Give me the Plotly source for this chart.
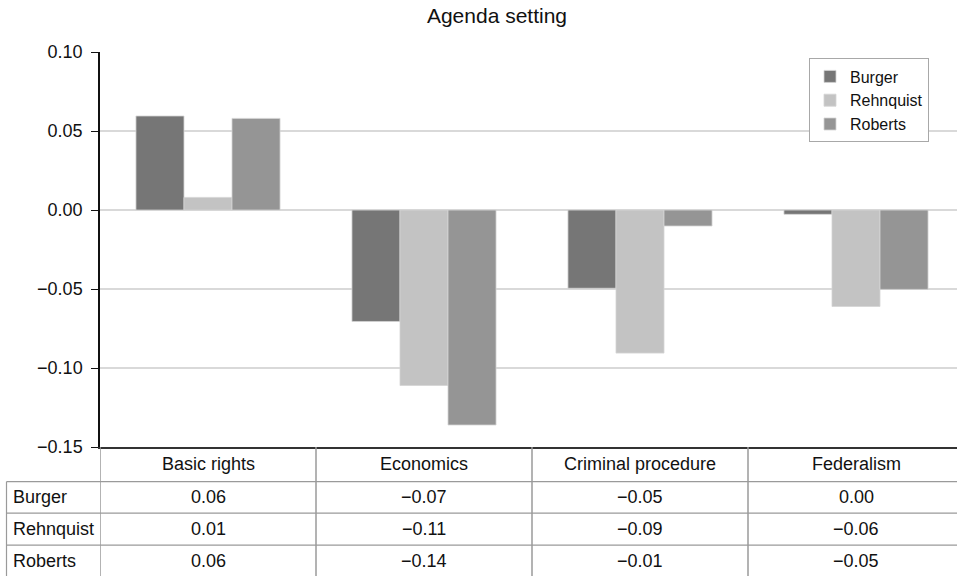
import plotly.graph_objects as go

# Issue areas and per-court agenda-setting estimates
categories = ["Basic rights", "Economics", "Criminal procedure", "Federalism"]
courts = ["Burger", "Rehnquist", "Roberts"]
burger = [0.0595, -0.0705, -0.0495, -0.0027]
rehnquist = [0.0080, -0.1110, -0.0905, -0.0610]
roberts = [0.0580, -0.1360, -0.0101, -0.0502]
series = [burger, rehnquist, roberts]
colors = ["#767676", "#c3c3c3", "#959595"]

y_ticks = [0.10, 0.05, 0.00, -0.05, -0.10, -0.15]

W, H = 957, 576          # page layout size the geometry below is laid out in
FIG_H = 586              # figure height handed to plotly
SY = FIG_H / H           # vertical factor from layout rows to figure rows
M_L, M_T = 100, 51.5
PLOT_BOTTOM = 447        # row of the x-axis line
FONT = "Liberation Sans, Arial, Helvetica, sans-serif"
TXT = "#111111"


def fmt(v):
    s = f"{v:.2f}"
    if s == "-0.00":
        s = "0.00"
    return s.replace("-", "\u2212")


def py(row):
    """Convert a layout row to paper y."""
    return (H - row) / (H - M_T)


def px(col):
    """Convert a layout column to paper x."""
    return (col - M_L) / (W - M_L)


fig = go.Figure()
for name, vals, col in zip(courts, series, colors):
    fig.add_trace(go.Bar(
        x=categories, y=vals, name=name,
        marker=dict(color=col, line=dict(color="#d4d4d4", width=0.8)),
    ))

# --- data table under the chart -------------------------------------------
row_edges = [PLOT_BOTTOM, 481.5, 513, 545, 576]
grid_col = "#9a9a9a"
TABLE_LEFT = 6.5
shapes = []
annotations = []

# horizontal rules below the header and between rows
for r in row_edges[1:-1]:
    shapes.append(dict(type="line", xref="paper", yref="paper",
                       x0=px(TABLE_LEFT), x1=1, y0=py(r), y1=py(r),
                       line=dict(color=grid_col, width=1.2)))
# left border of the row-label column
shapes.append(dict(type="line", xref="paper", yref="paper",
                   x0=px(TABLE_LEFT), x1=px(TABLE_LEFT),
                   y0=py(row_edges[1]), y1=py(H),
                   line=dict(color=grid_col, width=1.2)))
# vertical column dividers aligned to the category axis
for i in range(len(categories)):
    shapes.append(dict(type="line", xref="x", yref="paper",
                       x0=i - 0.5, x1=i - 0.5, y0=py(PLOT_BOTTOM), y1=py(H),
                       line=dict(color=grid_col, width=1.5)))

cell_font = dict(size=18, color=TXT, family=FONT)
# header row: category names
hdr_y = py((row_edges[0] + row_edges[1]) / 2)
for c in categories:
    annotations.append(dict(x=c, y=hdr_y, xref="x", yref="paper", text=c,
                            showarrow=False, xanchor="center", yanchor="middle",
                            font=cell_font))
# body rows
for k, (name, vals) in enumerate(zip(courts, series)):
    yc = py((row_edges[k + 1] + row_edges[k + 2]) / 2)
    annotations.append(dict(x=px(11), y=yc, xref="paper", yref="paper", text=name,
                            showarrow=False, xanchor="left", yanchor="middle",
                            font=cell_font))
    for c, v in zip(categories, vals):
        annotations.append(dict(x=c, y=yc, xref="x", yref="paper", text=fmt(v),
                                showarrow=False, xanchor="center", yanchor="middle",
                                font=cell_font))

fig.update_layout(
    width=W, height=FIG_H, autosize=False,
    margin=dict(l=M_L, r=0, t=M_T * SY, b=0),
    paper_bgcolor="white", plot_bgcolor="white",
    font=dict(family=FONT, size=18, color=TXT),
    title=dict(text="Agenda setting", xref="container", yref="container",
               x=497 / W, y=1 - 15.5 / H, xanchor="center", yanchor="middle",
               font=dict(size=21, color=TXT, family=FONT)),
    barmode="group", bargap=0.333, bargroupgap=0,
    showlegend=True,
    legend=dict(x=px(929), y=py(58), xanchor="right", yanchor="top",
                bgcolor="white", bordercolor="#a8a8a8", borderwidth=1,
                font=dict(size=16, color=TXT, family=FONT),
                itemclick=False, itemdoubleclick=False),
    shapes=shapes, annotations=annotations,
)
fig.update_xaxes(
    range=[-0.5, -0.5 + (W - M_L) / 216], showticklabels=False, ticks="",
    showgrid=False, showline=True, linecolor="#333333", linewidth=2,
    zeroline=False, fixedrange=True,
)
fig.update_yaxes(
    domain=[py(PLOT_BOTTOM), 1], range=[-0.15, 0.10],
    tickvals=y_ticks, ticktext=[fmt(v) for v in y_ticks],
    ticks="outside", ticklen=7, tickcolor=TXT, tickwidth=1.2,
    ticklabelstandoff=5,
    showline=True, linecolor=TXT, linewidth=1.5,
    showgrid=True, gridcolor="#d9d9d9", gridwidth=1.5,
    zeroline=True, zerolinecolor="#d9d9d9", zerolinewidth=1.5,
    tickfont=dict(size=18, color=TXT, family=FONT),
    fixedrange=True,
)

fig.write_html("out.html", config={"responsive": False, "displayModeBar": False})
